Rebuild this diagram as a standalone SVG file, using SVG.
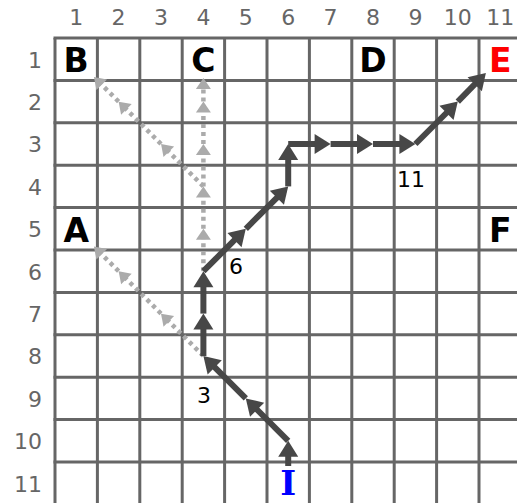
<svg xmlns="http://www.w3.org/2000/svg" width="517" height="503" viewBox="0 0 517 503">
<style>
.grid line{stroke:#666;stroke-width:3}
.lbl{font-family:"DejaVu Sans",sans-serif;font-size:22px;fill:#666}
.num{font-family:"DejaVu Sans",sans-serif;font-size:22px;fill:#000;text-anchor:middle}
.big{font-family:"DejaVu Sans",sans-serif;font-size:33px;font-weight:bold;text-anchor:middle}
.dk{stroke:#474747;stroke-width:6;fill:none;marker-end:url(#ah)}
.gy{stroke:#ababab;stroke-width:4.5;stroke-dasharray:4 4;fill:none;marker-end:url(#ag)}
</style>
<defs>
<marker id="ah" markerUnits="userSpaceOnUse" markerWidth="20" markerHeight="22" refX="2" refY="0" viewBox="0 -11 18 22" orient="auto" overflow="visible">
<path d="M0,-10 L16,0 L0,10 z" fill="#474747"/>
</marker>
<marker id="ag" markerUnits="userSpaceOnUse" markerWidth="14" markerHeight="16" refX="2" refY="0" viewBox="0 -8 12 16" orient="auto" overflow="visible">
<path d="M0,-7.5 L11,0 L0,7.5 z" fill="#ababab"/>
</marker>
</defs>
<rect width="517" height="503" fill="#fff"/>
<g class="grid">
<line x1="55" y1="38" x2="55" y2="503"/>
<line x1="97.4" y1="38" x2="97.4" y2="503"/>
<line x1="139.8" y1="38" x2="139.8" y2="503"/>
<line x1="182.2" y1="38" x2="182.2" y2="503"/>
<line x1="224.6" y1="38" x2="224.6" y2="503"/>
<line x1="267" y1="38" x2="267" y2="503"/>
<line x1="309.4" y1="38" x2="309.4" y2="503"/>
<line x1="351.8" y1="38" x2="351.8" y2="503"/>
<line x1="394.2" y1="38" x2="394.2" y2="503"/>
<line x1="436.6" y1="38" x2="436.6" y2="503"/>
<line x1="479" y1="38" x2="479" y2="503"/>
<line x1="53.5" y1="38" x2="517" y2="38"/>
<line x1="53.5" y1="80.4" x2="517" y2="80.4"/>
<line x1="53.5" y1="122.8" x2="517" y2="122.8"/>
<line x1="53.5" y1="165.2" x2="517" y2="165.2"/>
<line x1="53.5" y1="207.6" x2="517" y2="207.6"/>
<line x1="53.5" y1="250" x2="517" y2="250"/>
<line x1="53.5" y1="292.4" x2="517" y2="292.4"/>
<line x1="53.5" y1="334.8" x2="517" y2="334.8"/>
<line x1="53.5" y1="377.2" x2="517" y2="377.2"/>
<line x1="53.5" y1="419.6" x2="517" y2="419.6"/>
<line x1="53.5" y1="462" x2="517" y2="462"/>
</g>
<g id="col-labels" class="lbl" text-anchor="middle">
<text x="76.2" y="25">1</text>
<text x="118.6" y="25">2</text>
<text x="161" y="25">3</text>
<text x="203.4" y="25">4</text>
<text x="245.8" y="25">5</text>
<text x="288.2" y="25">6</text>
<text x="330.6" y="25">7</text>
<text x="373" y="25">8</text>
<text x="415.4" y="25">9</text>
<text x="457.8" y="25">10</text>
<text x="500.2" y="25">11</text>
</g>
<g id="row-labels" class="lbl" text-anchor="end">
<text x="42" y="67.5">1</text>
<text x="42" y="109.9">2</text>
<text x="42" y="152.3">3</text>
<text x="42" y="194.7">4</text>
<text x="42" y="237.1">5</text>
<text x="42" y="279.5">6</text>
<text x="42" y="321.9">7</text>
<text x="42" y="364.3">8</text>
<text x="42" y="406.7">9</text>
<text x="42" y="449.1">10</text>
<text x="42" y="491.5">11</text>
</g>
<g id="connectors">
<g id="gray-paths">
<line class="gy" x1="203.4" y1="356" x2="167.4" y2="320"/>
<line class="gy" x1="161" y1="313.6" x2="125" y2="277.6"/>
<line class="gy" x1="118.6" y1="271.2" x2="100.3" y2="252.9"/>
<line class="gy" x1="203.4" y1="271.2" x2="203.4" y2="237.8"/>
<line class="gy" x1="203.4" y1="228.8" x2="203.4" y2="195.4"/>
<line class="gy" x1="203.4" y1="186.4" x2="203.4" y2="153"/>
<line class="gy" x1="203.4" y1="144" x2="203.4" y2="110.6"/>
<line class="gy" x1="203.4" y1="101.6" x2="203.4" y2="87"/>
<line class="gy" x1="203.4" y1="186.4" x2="167.4" y2="150.4"/>
<line class="gy" x1="161" y1="144" x2="125" y2="108"/>
<line class="gy" x1="118.6" y1="101.6" x2="100.3" y2="83.3"/>
</g>
<g id="main-path">
<line class="dk" x1="288.2" y1="466" x2="288.2" y2="454.8"/>
<line class="dk" x1="288.2" y1="440.8" x2="255.7" y2="408.3"/>
<line class="dk" x1="245.8" y1="398.4" x2="213.3" y2="365.9"/>
<line class="dk" x1="203.4" y1="356" x2="203.4" y2="327.6"/>
<line class="dk" x1="203.4" y1="313.6" x2="203.4" y2="285.2"/>
<line class="dk" x1="203.4" y1="271.2" x2="235.9" y2="238.7"/>
<line class="dk" x1="245.8" y1="228.8" x2="278.3" y2="196.3"/>
<line class="dk" x1="288.2" y1="186.4" x2="288.2" y2="158"/>
<line class="dk" x1="288.2" y1="144" x2="316.6" y2="144"/>
<line class="dk" x1="330.6" y1="144" x2="359" y2="144"/>
<line class="dk" x1="373" y1="144" x2="401.4" y2="144"/>
<line class="dk" x1="415.4" y1="144" x2="447.9" y2="111.5"/>
<line class="dk" x1="457.8" y1="101.6" x2="476.1" y2="82.9"/>
</g>
</g>
<g id="move-labels">
<text class="num" x="204" y="403">3</text>
<text class="num" x="236" y="274">6</text>
<text class="num" x="411" y="187">11</text>
</g>
<g id="node-B"><text class="big" x="76.2" y="71.5" fill="#000">B</text></g>
<g id="node-C"><text class="big" x="203.4" y="71.5" fill="#000">C</text></g>
<g id="node-D"><text class="big" x="373" y="71.5" fill="#000">D</text></g>
<g id="node-E"><text class="big" x="500.2" y="71.5" fill="#f00">E</text></g>
<g id="node-A"><text class="big" x="76.2" y="241.5" fill="#000">A</text></g>
<g id="node-F"><text class="big" x="500.2" y="241.5" fill="#000">F</text></g>
<g id="node-I"><text x="288.2" y="495" fill="#00f" font-family="DejaVu Serif, serif" font-weight="bold" font-size="34" text-anchor="middle">I</text></g>
</svg>
